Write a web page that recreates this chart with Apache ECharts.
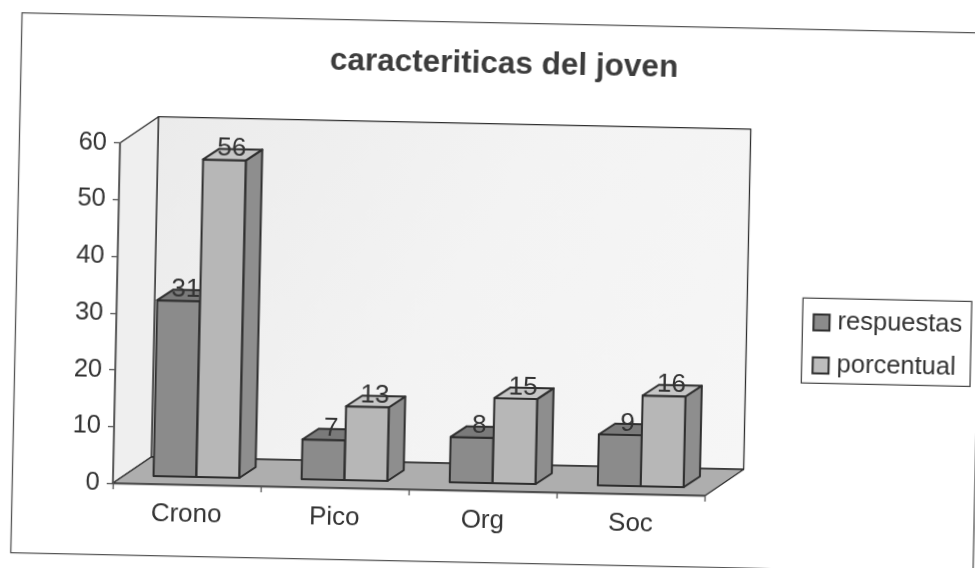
<!DOCTYPE html>
<html>
<head>
<meta charset="utf-8">
<style>
html,body{margin:0;padding:0;width:975px;height:568px;overflow:hidden;background:#fff}
#c{position:absolute;left:-30px;top:-30px;width:1035px;height:628px;transform:rotate(1.2deg);transform-origin:50% 50%;filter:blur(0.6px)}
</style>
<script src="https://cdn.jsdelivr.net/npm/echarts@6/dist/echarts.min.js"></script>
</head>
<body>
<div id="c"></div>
<script>
var categories = ['Crono', 'Pico', 'Org', 'Soc'];
var respuestas = [31, 7, 8, 9];
var porcentual = [56, 13, 15, 16];
var chartTitle = 'caracteriticas del joven';

var FONT = '"Liberation Sans", Arial, sans-serif';
var WALL = {x: 38, y: -27};
var BAR = {x: 16, y: -11};
var INSET = {x: 9.5, y: -8};
var BAR_RATIO = 0.29;
var LINE = '#2e2e2e';
var TEXT = '#333333';

var chart = echarts.init(document.getElementById('c'), null, {renderer: 'canvas'});

function poly(points, fill, lw) {
  return {
    type: 'polygon',
    shape: {points: points},
    style: {fill: fill, stroke: LINE, lineWidth: lw === undefined ? 2 : lw, lineJoin: 'round'}
  };
}

function walls(params, api) {
  var cs = params.coordSys;
  var x0 = cs.x, x1 = cs.x + cs.width, yb = cs.y + cs.height, yt = cs.y;
  var dx = WALL.x, dy = WALL.y;
  return {
    type: 'group',
    children: [
      poly([[x0 + dx, yt + dy], [x1 + dx, yt + dy], [x1 + dx, yb + dy], [x0 + dx, yb + dy]],
        new echarts.graphic.LinearGradient(0, 0, 1, 1, [
          {offset: 0, color: '#ebebeb'}, {offset: 0.5, color: '#f3f3f3'}, {offset: 1, color: '#f6f6f6'}
        ]), 1.3),
      poly([[x0, yt], [x0 + dx, yt + dy], [x0 + dx, yb + dy], [x0, yb]], '#efefef', 1.3),
      poly([[x0, yb], [x0 + dx, yb + dy], [x1 + dx, yb + dy], [x1, yb]], '#aeaeae', 1.3)
    ]
  };
}

function barRenderer(side, front, top, right) {
  return function (params, api) {
    var i = api.value(0), v = api.value(1);
    var base = api.coord([i, 0]), head = api.coord([i, v]);
    var w = api.size([1, 0])[0] * BAR_RATIO;
    var xl = base[0] + INSET.x + (side < 0 ? -w : 0);
    var xr = xl + w;
    var yb = base[1] + INSET.y, yt = head[1] + INSET.y;
    var dx = BAR.x, dy = BAR.y;
    return {
      type: 'group',
      children: [
        poly([[xl, yt], [xr, yt], [xr, yb], [xl, yb]], front),
        poly([[xr, yt], [xr + dx, yt + dy], [xr + dx, yb + dy], [xr, yb]], right),
        poly([[xl, yt], [xl + dx, yt + dy], [xr + dx, yt + dy], [xr, yt]], top),
        {
          type: 'text',
          style: {
            x: (xl + xr + dx) / 2 - 1, y: yt + dy / 2 - 6,
            text: String(v), fill: TEXT,
            font: '26px ' + FONT, align: 'center', verticalAlign: 'middle'
          }
        }
      ]
    };
  };
}

function pairs(values) {
  return values.map(function (v, i) { return [i, v]; });
}

chart.setOption({
  animation: false,
  backgroundColor: 'transparent',
  textStyle: {fontFamily: FONT},
  graphic: [{
    type: 'rect', silent: true, z: -1,
    shape: {x: 46.5, y: 52.7, width: 962.5, height: 540},
    style: {fill: '#fff', stroke: '#555', lineWidth: 1.3}
  }],
  title: {
    text: chartTitle, left: 524.4, top: 73, textAlign: 'center',
    textStyle: {fontFamily: FONT, fontSize: 31.5, fontWeight: 'bold', color: '#3c3c3c'}
  },
  legend: {
    orient: 'vertical', left: 833.3, top: 321.4,
    data: ['respuestas', 'porcentual'],
    icon: 'rect', itemWidth: 16, itemHeight: 16, itemGap: 17,
    padding: [11, 9, 5, 10],
    borderColor: '#4a4a4a', borderWidth: 1.3, backgroundColor: '#fff',
    itemStyle: {borderColor: LINE, borderWidth: 2},
    textStyle: {fontFamily: FONT, fontSize: 25.5, color: TEXT, padding: [0, 0, 0, 3]},
    selectedMode: false
  },
  grid: {left: 147, right: 295.5, top: 180.7, bottom: 107},
  xAxis: {
    type: 'category', data: categories, z: 5,
    axisLine: {lineStyle: {color: '#555', width: 1.3}},
    axisTick: {show: true, length: 6, alignWithLabel: false, lineStyle: {color: '#555', width: 1.3}},
    axisLabel: {fontFamily: FONT, fontSize: 26, color: TEXT, margin: 17},
    splitLine: {show: false}
  },
  yAxis: {
    type: 'value', min: 0, max: 60, interval: 10, z: 5,
    axisLine: {show: true, lineStyle: {color: '#555', width: 1.3}},
    axisTick: {show: true, length: 6, lineStyle: {color: '#555', width: 1.3}},
    axisLabel: {fontFamily: FONT, fontSize: 25.5, color: TEXT, margin: 13},
    splitLine: {show: false}
  },
  series: [
    {type: 'custom', name: 'walls', silent: true, z: 1, data: [[0, 0]], encode: {x: 0, y: 1}, renderItem: walls, clip: false},
    {type: 'custom', name: 'respuestas', z: 2, data: pairs(respuestas), encode: {x: 0, y: 1},
      itemStyle: {color: '#8b8b8b'}, clip: false,
      renderItem: barRenderer(-1, '#8b8b8b', '#7a7a7a', '#6f6f6f')},
    {type: 'custom', name: 'porcentual', z: 3, data: pairs(porcentual), encode: {x: 0, y: 1},
      itemStyle: {color: '#bdbdbd'}, clip: false,
      renderItem: barRenderer(1, '#b7b7b7', '#c6c6c6', '#8e8e8e')}
  ]
});
</script>
</body>
</html>
